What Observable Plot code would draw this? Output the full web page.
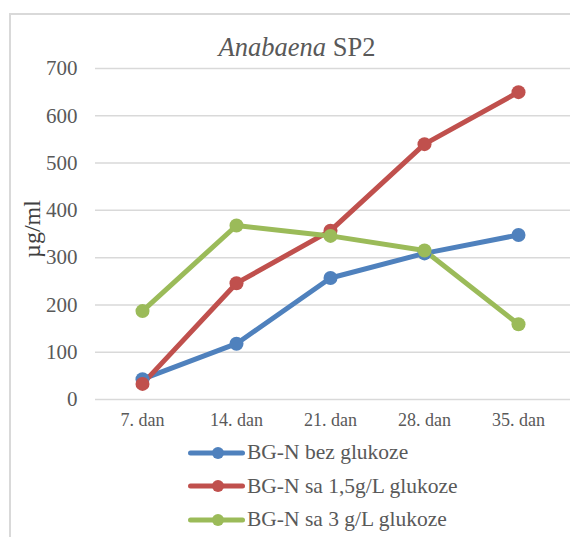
<!DOCTYPE html>
<html><head><meta charset="utf-8">
<script src="https://cdn.jsdelivr.net/npm/d3@7"></script>
<script src="https://cdn.jsdelivr.net/npm/@observablehq/plot@0.6"></script>
<style>
body{margin:0;background:#fff;}
#wrap{position:relative;width:570px;height:537px;overflow:hidden;}
#border{position:absolute;left:9px;top:13px;width:620px;height:620px;border:2px solid #d9d9d9;box-sizing:border-box;}
#chart{position:absolute;left:0;top:0;}
#title{position:absolute;top:33px;left:0;width:594px;text-align:center;font-size:26.5px;line-height:1.107;color:#595959;font-family:'Liberation Serif',serif;}
#legend{position:absolute;left:186px;top:436px;}
.row{display:flex;align-items:center;height:33.5px;font-size:21.5px;color:#595959;font-family:'Liberation Serif',serif;}
.row svg{margin-right:1px;}
</style></head>
<body>
<div id="wrap">
<div id="border"></div>
<div id="chart"></div>
<div id="title"><i>Anabaena</i> SP2</div>
<div id="legend"></div>
</div>
<script>
const days = ["7. dan","14. dan","21. dan","28. dan","35. dan"];
const seriesNames = ["BG-N bez glukoze","BG-N sa 1,5g/L glukoze","BG-N sa 3 g/L glukoze"];
const bezGlukoze = [43, 118, 257, 309, 348];
const glukoze15 = [33, 246, 357, 540, 650];
const glukoze3 = [187, 368, 346, 315, 159];
const colors = ["#4f81bd","#c0504d","#9bbb59"];
const yTicks = [0,100,200,300,400,500,600,700];
const serifFont = "'Liberation Serif', serif";

const allSeries = [bezGlukoze, glukoze15, glukoze3];
const data = [];
allSeries.forEach((vals, si) => vals.forEach((v, i) => data.push({day: days[i], value: v, series: seriesNames[si]})));

const chart = Plot.plot({
  width: 570, height: 430,
  marginLeft: 95, marginRight: 0, marginTop: 68, marginBottom: 31,
  style: {fontFamily: serifFont, background: "transparent", overflow: "visible"},
  x: {domain: days, type: "band", padding: 0, range: [95, 565], label: null},
  y: {domain: [0,700], label: null},
  marks: [
    Plot.ruleY(yTicks, {stroke: "#d9d9d9", strokeWidth: 1.5}),
    Plot.axisY(yTicks, {tickSize: 0, tickPadding: 18, fontSize: 21, fill: "#595959", label: null}),
    Plot.axisX({tickSize: 0, tickPadding: 14, fontSize: 18, fill: "#595959", label: null}),
    Plot.text(["µg/ml"], {frameAnchor: "left", textAnchor: "middle", dx: -63, dy: -5, rotate: -90, fontSize: 24, fill: "#404040"}),
    ...seriesNames.map((s, si) => Plot.line(data.filter(d => d.series === s), {x: "day", y: "value", stroke: colors[si], strokeWidth: 5})),
    ...seriesNames.map((s, si) => Plot.dot(data.filter(d => d.series === s), {x: "day", y: "value", fill: colors[si], r: 7}))
  ]
});
document.getElementById("chart").appendChild(chart);

const legend = document.getElementById("legend");
seriesNames.forEach((s, i) => {
  const row = document.createElement("div");
  row.className = "row";
  row.innerHTML = `<svg width="60" height="16"><line x1="4.5" y1="8" x2="56.5" y2="8" stroke="${colors[i]}" stroke-width="5" stroke-linecap="round"/><circle cx="32" cy="8" r="6" fill="${colors[i]}"/></svg><span>${s}</span>`;
  legend.appendChild(row);
});
</script>
</body></html>
